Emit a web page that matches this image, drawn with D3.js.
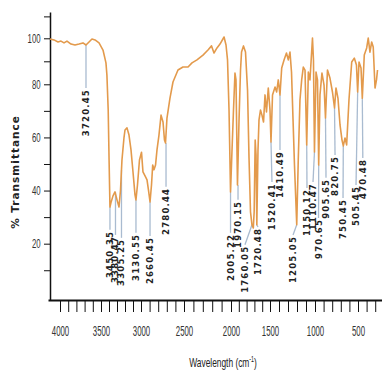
<!DOCTYPE html>
<html>
<head>
<meta charset="utf-8">
<script src="https://cdn.jsdelivr.net/npm/d3@7"></script>
<style>
  body { margin: 0; background: #fff; }
  svg { display: block; }
  .axis text { font-family: "Liberation Sans", Arial, sans-serif; fill: #333; }
  .x.axis text { font-size: 14px; }
  .y.axis text { font-size: 13px; }
  .axis path, .axis line { stroke: #111; }
  .peak-label { font-family: "DejaVu Sans", sans-serif; font-size: 8.5px; font-weight: bold; fill: #222; letter-spacing: 1.2px; }
</style>
</head>
<body>
<svg id="chart" width="382" height="373"></svg>
<script>
// spectrum (wavenumber cm-1, % transmittance)
const wavenumber = [4122, 4073, 4024, 3988, 3951, 3915, 3866, 3817, 3768, 3720, 3683, 3646, 3610, 3573, 3524, 3475,
  3438, 3426, 3410, 3399, 3388, 3376, 3350, 3325, 3300, 3275, 3256, 3238, 3213, 3200, 3175, 3150, 3125, 3100, 3075,
  3063, 3044, 3019, 2994, 2977, 2953, 2930, 2913, 2895, 2878, 2864, 2849, 2831, 2814, 2791, 2767, 2744, 2727, 2715,
  2698, 2663, 2628, 2570, 2512, 2457, 2415, 2362, 2298, 2245, 2207, 2181, 2149, 2117, 2074, 2053, 2037, 2021, 2005,
  1987, 1968, 1949, 1936, 1917, 1897, 1878, 1865, 1840, 1814, 1788, 1769, 1750, 1731, 1714, 1703, 1690, 1679, 1669,
  1654, 1641, 1622, 1603, 1583, 1564, 1545, 1522, 1500, 1489, 1472, 1444, 1426, 1408, 1389, 1370, 1344, 1317, 1297,
  1278, 1261, 1244, 1228, 1203, 1186, 1167, 1148, 1130, 1111, 1092, 1074, 1056, 1028, 1017, 1006, 988, 971, 957,
  942, 919, 895, 878, 855, 826, 797, 773, 756, 733, 709, 686, 671, 651, 632, 605, 573, 543, 518, 504, 488, 465, 450,
  427, 399, 381, 361, 341, 323, 302, 285, 273];
const transmittance = [99.7, 99.3, 98.4, 98.8, 98.0, 98.8, 97.5, 97.1, 97.5, 98.0, 97.1, 98.4, 99.7, 99.3, 98.0, 94.9,
  89.3, 84.0, 70.3, 51.5, 33.8, 35.4, 38.0, 39.5, 36.5, 33.8, 40.2, 51.5, 59.8, 62.8, 63.6, 60.9, 55.3, 47.0, 38.4,
  36.5, 42.1, 51.5, 54.4, 47.0, 45.5, 44.0, 40.2, 35.7, 42.1, 49.6, 47.8, 49.6, 55.3, 60.9, 68.4, 65.8, 59.0, 57.9,
  67.3, 74.8, 81.0, 86.2, 87.5, 87.5, 89.3, 90.6, 92.7, 94.9, 96.7, 93.6, 95.8, 97.5, 100.6, 97.1, 90.6, 70.3, 39.5,
  55.3, 70.3, 84.9, 81.9, 42.1, 66.6, 86.2, 94.0, 96.7, 94.0, 77.8, 52.3, 32.0, 27.1, 25.9, 32.0, 59.0, 53.4, 27.1,
  55.3, 66.6, 70.3, 68.4, 65.8, 76.0, 69.6, 78.6, 70.3, 58.3, 76.0, 79.0, 77.1, 81.9, 76.0, 87.1, 90.6, 93.6, 90.6,
  94.0, 85.3, 66.6, 49.6, 27.1, 51.5, 74.1, 81.9, 87.5, 86.2, 57.2, 85.3, 81.9, 100.1, 90.6, 54.5, 85.3, 81.9, 49.6,
  76.0, 84.9, 79.7, 67.3, 86.2, 82.7, 77.1, 71.1, 78.6, 74.8, 64.7, 59.0, 56.8, 59.8, 57.2, 74.1, 89.7, 91.4, 88.4,
  77.1, 89.7, 87.1, 74.8, 92.7, 95.8, 100.1, 94.0, 98.4, 96.2, 78.6, 81.9, 86.2];

// peak annotations
const peakLabels = ["3720.45", "3450.35", "3380.47", "3305.25", "3130.55", "2660.45", "2780.44", "2005.22", "1970.15",
  "1760.05", "1720.48", "1520.41", "1410.49", "1205.05", "1150.12", "1110.47", "970.65", "905.65", "820.75",
  "750.45", "505.45", "470.48"];
const peakWn = [3683, 3388, 3319, 3244, 3063, 2895, 2709, 2005, 1910, 1731, 1669, 1489, 1389, 1203, 1092, 1006, 957,
  878, 773, 671, 504, 450];
const peakT = [97.1, 33.8, 39.5, 47.8, 36.5, 35.7, 57.9, 39.5, 42.1, 27.1, 27.1, 58.3, 76.0, 27.1, 57.2, 54.5, 49.6,
  67.3, 71.1, 56.8, 77.1, 74.8];
const labelWn = [3683, 3388, 3319, 3244, 3063, 2895, 2709, 2005, 1910, 1821, 1654, 1478, 1389, 1244, 1089, 1022, 959,
  872, 767, 674, 523, 444];
const labelT = [78.6, 25.2, 23.3, 22.2, 24.1, 22.9, 41.4, 24.1, 36.5, 19.6, 26.3, 43.2, 55.3, 23.3, 41.0, 43.2, 29.7,
  44.8, 53.4, 37.2, 42.1, 52.3];

const xTickValues = d3.range(300, 4001, 100);
const xTickLabels = [4000, 3500, 3000, 2500, 2000, 1500, 1000, 500];
const yTickValues = d3.range(10, 111, 10);
const yTickLabels = [20, 40, 60, 80, 100];

const svg = d3.select('#chart');

// the printed axes are not evenly spaced, so piecewise scales follow the tick marks
const x = d3.scaleLinear()
  .domain([4146, 4000, 3500, 3000, 2500, 2000, 1500, 1000, 500, 221])
  .range([48, 60, 101, 141, 184, 231, 270, 315, 358, 382]);
const y = d3.scaleLinear()
  .domain([-1.2, 80, 100, 112])
  .range([300, 84.3, 38.3, 12]);

const xAxis = d3.axisBottom(x)
  .tickValues(xTickValues)
  .tickSizeInner(12)
  .tickSizeOuter(0)
  .tickPadding(14)
  .tickFormat(d => xTickLabels.includes(d) ? d : '');

const yAxis = d3.axisLeft(y)
  .tickValues(yTickValues)
  .tickSizeInner(6)
  .tickSizeOuter(0)
  .tickPadding(3)
  .tickFormat(d => yTickLabels.includes(d) ? d : '');

// numbers in the picture are tall and narrow
svg.append('g')
  .attr('class', 'x axis')
  .attr('transform', 'translate(0,300)')
  .call(xAxis)
  .call(g => g.select('.domain').attr('stroke-width', 2))
  .call(g => g.selectAll('.tick text').attr('transform', 'scale(0.56,1)'));

svg.append('g')
  .attr('class', 'y axis')
  .attr('transform', 'translate(50,0)')
  .call(yAxis)
  .call(g => g.select('.domain').attr('stroke-width', 1.5))
  .call(g => g.selectAll('.tick text').attr('transform', 'translate(-4,0) scale(0.6,1)'));

// connectors from dips down to the labels
const peaks = peakLabels.map((t, i) => ({ t: t, wn: peakWn[i], v: peakT[i], lwn: labelWn[i], lv: labelT[i] }));

svg.append('g').selectAll('line')
  .data(peaks).enter()
  .append('line')
  .attr('x1', d => x(d.wn))
  .attr('y1', d => y(d.v))
  .attr('x2', d => x(d.lwn))
  .attr('y2', d => y(d.lv))
  .attr('stroke', '#a9bbd0')
  .attr('stroke-width', 1.3);

const line = d3.line()
  .x((d, i) => x(wavenumber[i]))
  .y(d => y(d));

svg.append('path')
  .datum(transmittance)
  .attr('fill', 'none')
  .attr('stroke', '#e39a4c')
  .attr('stroke-width', 1.6)
  .attr('stroke-linejoin', 'round')
  .attr('d', line);

svg.append('g').selectAll('text')
  .data(peaks).enter()
  .append('text')
  .attr('class', 'peak-label')
  .attr('transform', d => 'translate(' + (x(d.lwn) + 3) + ',' + (y(d.lv) + 1) + ') rotate(-90)')
  .attr('text-anchor', 'end')
  .text(d => d.t);

svg.append('text')
  .attr('transform', 'translate(19,172) rotate(-90)')
  .attr('text-anchor', 'middle')
  .style('font-family', '"DejaVu Sans", sans-serif')
  .style('font-size', '10.5px')
  .style('font-weight', 'bold')
  .style('letter-spacing', '1px')
  .style('fill', '#222')
  .text('% Transmittance');

const xt = svg.append('text')
  .attr('transform', 'translate(223,367) scale(0.62,1)')
  .attr('text-anchor', 'middle')
  .style('font-family', '"Liberation Sans", Arial, sans-serif')
  .style('font-size', '13.5px')
  .style('fill', '#222');
xt.append('tspan').text('Wavelength (cm');
xt.append('tspan').attr('dy', -5).style('font-size', '8.5px').text('-1');
xt.append('tspan').attr('dy', 5).text(')');
</script>
</body>
</html>
